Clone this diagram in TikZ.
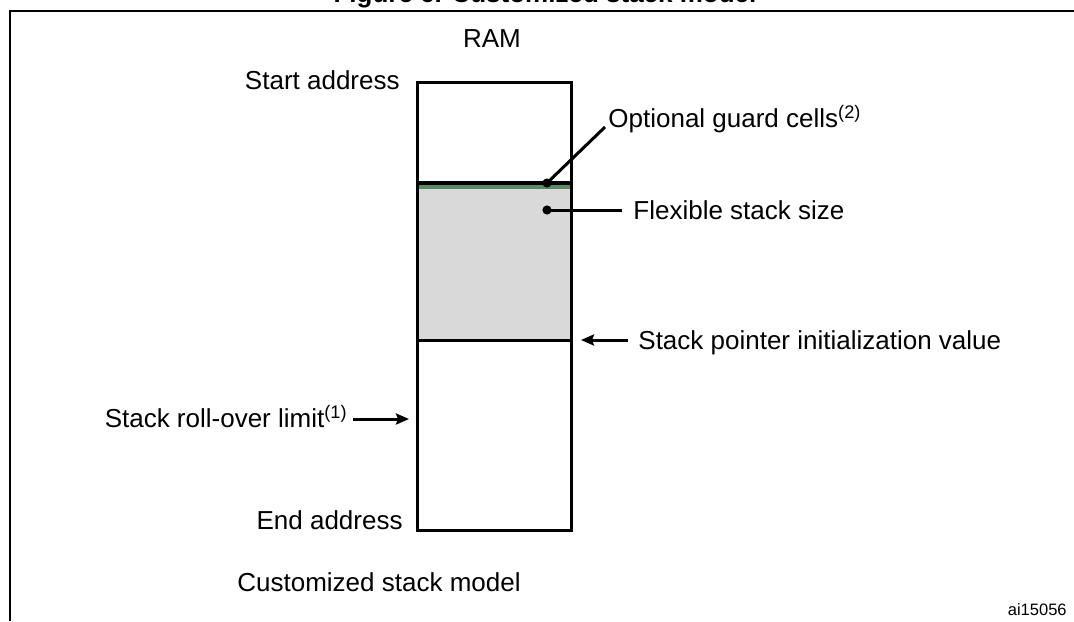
\documentclass[tikz,border=0pt]{standalone}
\usepackage{fontspec}
\setmainfont{Liberation Sans}
\usepackage{tikz}
\usetikzlibrary{arrows.meta}

\definecolor{guardgreen}{RGB}{88,138,104}
\definecolor{stackgray}{RGB}{217,217,217}

\begin{document}
\begin{tikzpicture}[x=0.5pt,y=-0.5pt,
	lbl/.style={font=\fontsize{13}{15}\selectfont,inner sep=0pt,text height=9.3pt,text depth=0pt},
	dot/.style={shape=circle,fill=black,inner sep=0pt,minimum size=4.6pt},
	lead/.style={line width=1.5pt},
	ptr/.style={-{Stealth[length=6.5pt,width=5.5pt,inset=1pt]},line width=1.5pt}]
	\useasboundingbox (0,0) rectangle (1074,621);
	
	% title (cut off at the top) and frame
	\node[font=\fontsize{13}{15}\selectfont\bfseries,anchor=base] (title) at (545,3) {Figure 6. Customized stack model};
	\draw[line width=1pt] (10,621) -- (10,11) -- (1074,11);
	
	% RAM column
	\fill[stackgray] (417,184) rectangle (571,340);
	\fill[guardgreen] (417,185) rectangle (571,189);
	\draw[line width=2pt] (417,183) -- (571,183);
	\draw[line width=1.5pt] (417,340) -- (571,340);
	\draw[line width=1.5pt] (417,82) rectangle (571,530);
	
	\node[lbl] (ram) at (492,38) {RAM};
	\node[lbl,anchor=east] (start) at (400,80) {Start address};
	\node[lbl,anchor=east] (end) at (403,520) {End address};
	\node[lbl,anchor=west] (guard) at (608,118) {Optional guard cells\textsuperscript{(2)}};
	\node[lbl,anchor=west] (flex) at (633,210) {Flexible stack size};
	\node[lbl,anchor=west] (sp) at (638,340) {Stack pointer initialization value};
	\node[lbl,anchor=east] (roll) at (348,418) {Stack roll-over limit\textsuperscript{(1)}};
	\node[lbl,anchor=west] (model) at (237,582) {Customized stack model};
	\node[font=\fontsize{8.25}{10}\selectfont,inner sep=0pt,anchor=base east] (id) at (1067,615) {ai15056};
	
	\node[dot] (gdot) at (547,183) {};
	\node[dot] (fdot) at (547,210) {};
	\coordinate (gend) at (605,127);
	\coordinate (fend) at (622,210);
	\coordinate (sptail) at (628,340);
	\coordinate (sptip) at (581,340);
	\coordinate (rolltail) at (353,419);
	\coordinate (rolltip) at (409,419);
	
	\path[lead] (gdot.center) edge (gend);
	\path[lead] (fdot.center) edge (fend);
	\path[ptr] (sptail) edge (sptip);
	\path[ptr] (rolltail) edge (rolltip);
\end{tikzpicture}
\end{document}
